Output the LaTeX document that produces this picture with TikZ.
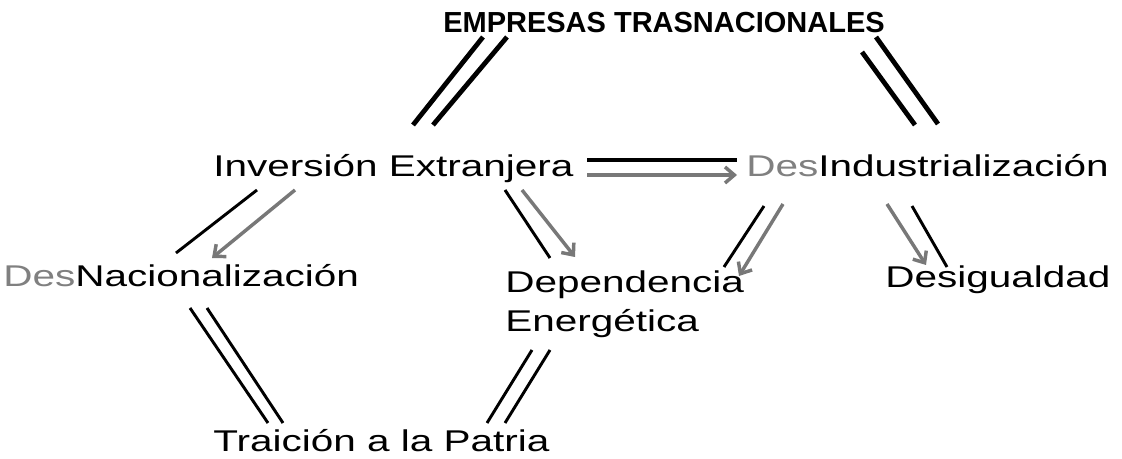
\documentclass[tikz,border=0pt]{standalone}
\usepackage{fontspec}
\setmainfont{Liberation Sans}
\usetikzlibrary{calc,arrows.meta}

\definecolor{desgray}{HTML}{808080}
\definecolor{arrowgray}{HTML}{787878}
\newcommand{\wtext}[1]{\scalebox{1.35}[1]{#1}}

\tikzset{
  lbl/.style={inner sep=0pt, anchor=base west, font=\fontsize{22.5}{27}\selectfont},
  blk/.style={line width=2.2pt},
  gry/.style={draw=arrowgray, line width=2.6pt, -{Straight Barb[length=7pt,width=12pt]}}
}

\begin{document}
\begin{tikzpicture}[x=0.75pt, y=-0.75pt]
  \useasboundingbox (0,0) rectangle (1122,459);

  \node (tit) [inner sep=0pt, anchor=base, font=\fontsize{21.75}{26}\selectfont\bfseries] at (664,33) {EMPRESAS TRASNACIONALES};
  \node (ie) [lbl] at (213,177) {\wtext{Inversión Extranjera}};
  \node (di) [lbl] at (746,177) {\wtext{\textcolor{desgray}{Des}Industrialización}};
  \node (dn) [lbl] at (3,287) {\wtext{\textcolor{desgray}{Des}Nacionalización}};
  \node (dep) [lbl] at (505,293) {\wtext{Dependencia}};
  \node (ene) [lbl] at (505,332) {\wtext{Energética}};
  \node (des) [lbl] at (885,288) {\wtext{Desigualdad}};
  \node (tp) [lbl] at (213,452) {\wtext{Traición a la Patria}};

  \draw[line width=3.6pt] ($(tit.base)+(-181,4)$) -- ($(ie.base west)+(200,-52)$);
  \draw[line width=3.6pt] ($(tit.base)+(-157,4)$) -- ($(ie.base west)+(220,-52)$);
  \draw[line width=3.6pt] ($(tit.base)+(212,4)$) -- ($(di.base west)+(192,-53)$);
  \draw[line width=3.6pt] ($(tit.base)+(198,19)$) -- ($(di.base west)+(169,-52)$);

  \draw[line width=2.6pt] ($(ie.base west)+(374,-17)$) -- ($(di.base west)+(-9,-17)$);
  \draw[gry] ($(ie.base west)+(374,-2)$) -- ($(di.base west)+(-9,-2)$);

  \draw[blk] ($(ie.base west)+(44,13)$) -- ($(dn.base west)+(173,-34)$);
  \draw[gry] ($(ie.base west)+(82,13)$) -- ($(dn.base west)+(209,-29)$);
  \draw[blk] ($(ie.base west)+(292,13)$) -- ($(dep.base west)+(45,-35)$);
  \draw[gry] ($(ie.base west)+(309,13)$) -- ($(dep.base west)+(70,-36)$);

  \draw[blk] ($(di.base west)+(18,29)$) -- ($(dep.base west)+(219,-26)$);
  \draw[gry] ($(di.base west)+(37,27)$) -- ($(dep.base west)+(234,-17)$);
  \draw[gry] ($(di.base west)+(141,27)$) -- ($(des.base west)+(41,-23)$);
  \draw[blk] ($(di.base west)+(166,29)$) -- ($(des.base west)+(62,-21)$);

  \draw[blk] ($(dn.base west)+(187,21)$) -- ($(tp.base west)+(55,-29)$);
  \draw[blk] ($(dn.base west)+(204,21)$) -- ($(tp.base west)+(70,-29)$);
  \draw[blk] ($(ene.base west)+(27,18)$) -- ($(tp.base west)+(274,-29)$);
  \draw[blk] ($(ene.base west)+(45,18)$) -- ($(tp.base west)+(292,-29)$);
\end{tikzpicture}
\end{document}
